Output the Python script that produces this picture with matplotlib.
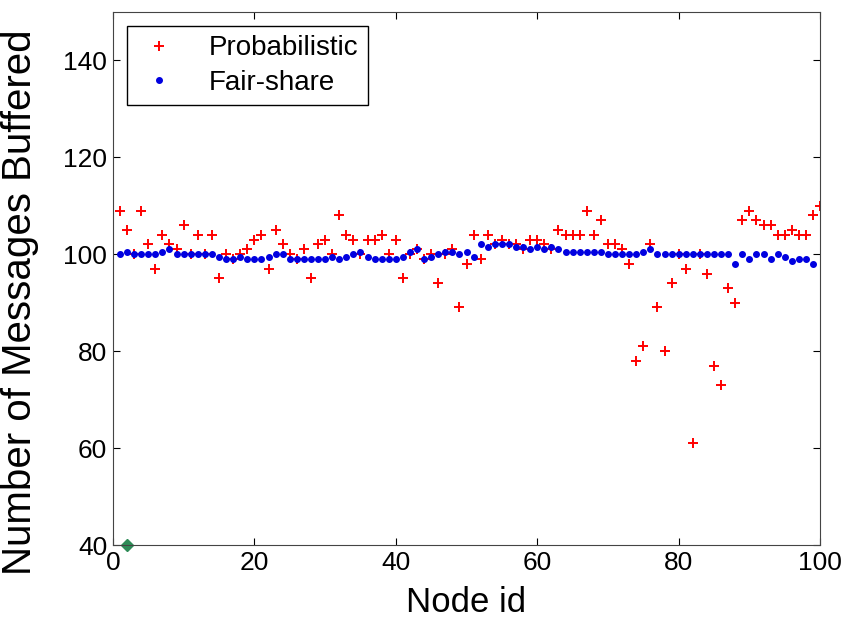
import numpy as np
import matplotlib.pyplot as plt

plt.rcParams['font.family'] = ['Liberation Sans', 'DejaVu Sans']

# buffered messages per node, nodes 1..100
node_ids = np.arange(1, 101)

probabilistic = [
    109, 105, 100, 109, 102, 97, 104, 102, 101, 106,
    100, 104, 100, 104, 95, 100, 99, 100, 101, 103,
    104, 97, 105, 102, 100, 99, 101, 95, 102, 103,
    100, 108, 104, 103, 100, 103, 103, 104, 100, 103,
    95, 100, 101, 99, 100, 94, 100, 101, 89, 98,
    104, 99, 104, 102, 103, 102, 102, 101, 103, 103,
    102, 101, 105, 104, 104, 104, 109, 104, 107, 102,
    102, 101, 98, 78, 81, 102, 89, 80, 94, 100,
    97, 61, 100, 96, 77, 73, 93, 90, 107, 109,
    107, 106, 106, 104, 104, 105, 104, 104, 108, 110,
]

fair_share = [
    100, 100.5, 100, 100, 100, 100, 100.5, 101, 100, 100,
    100, 100, 100, 100, 99.5, 99, 99, 99.5, 99, 99,
    99, 99.5, 100, 100, 99, 99, 99, 99, 99, 99,
    99.5, 99, 99.5, 100, 100.5, 99.5, 99, 99, 99, 99,
    99.5, 100.5, 101, 99, 99.5, 100, 100.5, 100.5, 100, 100.5,
    99.5, 102, 101.5, 102, 102, 102, 101.5, 101.5, 101, 101.5,
    101, 101.5, 101, 100.5, 100.5, 100.5, 100.5, 100.5, 100.5, 100,
    100, 100, 100, 100, 100.5, 101, 100, 100, 100, 100,
    100, 100, 100, 100, 100, 100, 100, 98, 100, 99,
    100, 100, 99, 100, 99.5, 98.5, 99, 99, 98,
]

# lone marker sitting on the x axis
extra_x = [2]
extra_y = [40]

fig = plt.figure(figsize=(8.49, 6.18), dpi=100)
ax = fig.add_axes([0.133, 0.118, 0.833, 0.863])

ax.plot(node_ids, probabilistic, '+', color='red', markersize=7, mew=1.4,
        label='Probabilistic')
ax.plot(node_ids[:len(fair_share)], fair_share, '.', color='#0000e0',
        markersize=8, label='Fair-share')
ax.plot(extra_x, extra_y, 'D', color='#2e8b57', markersize=6, clip_on=False)

ax.set_xlim(0, 100)
ax.set_ylim(40, 150)
ax.set_xticks([0, 20, 40, 60, 80, 100])
ax.set_yticks([40, 60, 80, 100, 120, 140])
ax.tick_params(direction='in', top=True, right=True, labelsize=19, length=5,
               pad=4)
for s in ax.spines.values():
    s.set_color('#444444')

ax.set_xlabel('Node id', fontsize=25, labelpad=8)
ax.set_ylabel('Number of Messages Buffered', fontsize=29)
ax.yaxis.set_label_coords(-0.104, 0.455)

leg = ax.legend(loc='upper left', fontsize=20, fancybox=False, framealpha=1,
                edgecolor='black', borderaxespad=0.5, handlelength=1.6,
                handletextpad=1.0, borderpad=0.35, labelspacing=0.3)
leg.get_frame().set_linewidth(1.0)

fig.savefig('out.png', dpi=100)
